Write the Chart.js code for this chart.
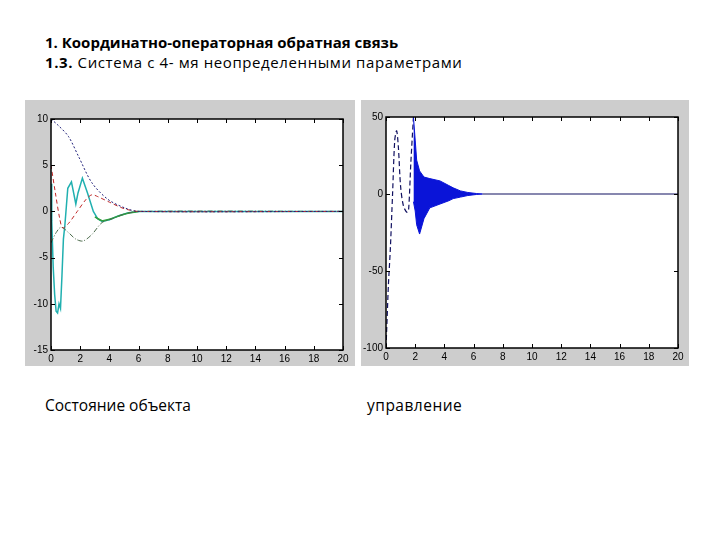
<!DOCTYPE html>
<html>
<head>
<meta charset="utf-8">
<script src="https://cdn.jsdelivr.net/npm/chart.js@4/dist/chart.umd.min.js"></script>
<style>
  body { margin: 0; background: #fff; width: 720px; height: 540px; position: relative; overflow: hidden; font-family: "Open Sans", "Liberation Sans", sans-serif; }
  .title { position: absolute; left: 45px; font-size: 15px; color: #000; white-space: nowrap; }
  .caption { position: absolute; top: 394px; font-size: 15.5px; color: #000; white-space: nowrap; }
  canvas { position: absolute; background: #cdcdcd; }
</style>
</head>
<body>
<div class="title" style="top:32px;font-weight:bold">1. Координатно-операторная обратная связь</div>
<div class="title" style="top:52px;letter-spacing:0.6px"><b>1.3.</b> Система с 4- мя неопределенными параметрами</div>
<canvas id="chart1" width="330" height="266" style="left:25px;top:100px"></canvas>
<canvas id="chart2" width="328" height="266" style="left:361px;top:100px"></canvas>
<div class="caption" style="left:45px">Состояние объекта</div>
<div class="caption" style="left:367px;letter-spacing:0.5px">управление</div>
<script>
// состояние объекта, x1..x4
var tNavy = [0, 0.5, 1.2, 1.9, 2.8, 3.9, 5.1, 6, 20];
var yNavy = [10, 9.3, 8.1, 5.9, 3.1, 1.3, 0.35, 0, 0];
var tRed = [0, 0.3, 0.6, 0.8, 1.2, 1.8, 2.4, 2.8, 3.2, 4, 5, 6, 20];
var yRed = [5, 2, -0.8, -1.8, -1.3, 0, 1.3, 1.8, 1.6, 1.0, 0.3, 0, 0];
var tGreen = [0, 0.35, 0.7, 1.2, 1.7, 2.2, 2.8, 3.5, 4.2, 5, 6, 20];
var yGreen = [-3.4, -2.3, -1.7, -2.3, -3.0, -3.2, -2.5, -1.2, -0.8, -0.3, 0, 0];
var tCyan = [0, 0.05, 0.15, 0.25, 0.35, 0.45, 0.55, 0.65, 0.75, 0.85, 0.95, 1.05, 1.15, 1.4, 1.55, 1.7, 1.85, 2.15, 2.5, 2.9, 3.2, 3.5, 4, 4.6, 5.3, 6, 20];
var yCyan = [3, -1, -6, -9, -10.8, -11, -10, -10.5, -7, -3, -1.5, 0.5, 2.5, 3.2, 2, 0.8, 2, 3.6, 2, 0, -0.8, -1.1, -0.9, -0.5, -0.15, 0, 0];
var tGreen2 = [3, 3.5, 4, 5, 6];
var yGreen2 = [-0.6, -1.0, -0.85, -0.3, 0];

// управление
var tCtrl = [0, 0.08, 0.16, 0.3, 0.45, 0.6, 0.73, 0.85, 1.0, 1.2, 1.45, 1.55, 1.7, 1.88];
var uCtrl = [-100, -80, -60, -35, 0, 35, 41, 30, 5, -8, -12, -10, 20, 50];
var tBand = [1.88, 2.0, 2.1, 2.3, 2.6, 3.0, 3.7, 4.3, 4.6, 5.1, 5.6, 6.2, 6.6];
var uUpper = [50, 35, 22, 15, 11, 10, 8.5, 5.5, 4, 2, 1, 0.3, 0];
var uLower = [-5, -11, -20, -26, -16, -9, -6.5, -4.4, -3, -2, -1, -0.3, 0];
var tTail = [6.6, 20];
var uTail = [0, 0];

var xTicks = [0, 2, 4, 6, 8, 10, 12, 14, 16, 18, 20];

function pts(t, y) {
  return t.map(function (v, i) { return {x: v, y: y[i]}; });
}

// white axes area, black box and inward ticks like in matlab
var matlabFrame = {
  id: 'matlabFrame',
  beforeDraw: function (chart) {
    var a = chart.chartArea, ctx = chart.ctx;
    ctx.save();
    ctx.fillStyle = '#fff';
    ctx.fillRect(a.left, a.top, a.right - a.left, a.bottom - a.top);
    ctx.restore();
  },
  afterDraw: function (chart) {
    var a = chart.chartArea, ctx = chart.ctx;
    var xs = chart.scales.x, ys = chart.scales.y;
    ctx.save();
    ctx.strokeStyle = '#000';
    ctx.lineWidth = 1;
    ctx.beginPath();
    xs.ticks.forEach(function (t) {
      var px = Math.round(xs.getPixelForValue(t.value)) + 0.5;
      ctx.moveTo(px, a.bottom); ctx.lineTo(px, a.bottom - 4);
      ctx.moveTo(px, a.top); ctx.lineTo(px, a.top + 4);
    });
    ys.ticks.forEach(function (t) {
      var py = Math.round(ys.getPixelForValue(t.value)) + 0.5;
      ctx.moveTo(a.left, py); ctx.lineTo(a.left + 4, py);
      ctx.moveTo(a.right, py); ctx.lineTo(a.right - 4, py);
    });
    ctx.stroke();
    ctx.lineWidth = 1.5;
    ctx.strokeRect(a.left, a.top, a.right - a.left, a.bottom - a.top);
    ctx.restore();
  }
};

function axes(ymin, ymax, ystep, yw, xh, ypad) {
  return {
    x: {
      type: 'linear', min: 0, max: 20,
      afterBuildTicks: function (s) { s.ticks = xTicks.map(function (v) { return {value: v}; }); },
      grid: {display: false, drawTicks: false}, border: {display: false},
      ticks: {color: '#000', font: {family: 'Liberation Sans', size: 10}, padding: 3, maxRotation: 0},
      afterFit: function (s) { s.height = xh; }
    },
    y: {
      type: 'linear', min: ymin, max: ymax,
      ticks: {stepSize: ystep, color: '#000', font: {family: 'Liberation Sans', size: 10}, padding: ypad},
      grid: {display: false, drawTicks: false}, border: {display: false},
      afterFit: function (s) { s.width = yw; }
    }
  };
}

function line(data, color, dash, width, tension) {
  return {data: data, borderColor: color, borderDash: dash, borderWidth: width || 1, pointRadius: 0,
    tension: tension === undefined ? 0.3 : tension, fill: false};
}

new Chart(document.getElementById('chart1'), {
  type: 'line',
  data: {
    datasets: [
      line(pts(tNavy, yNavy), '#20207a', [2, 2]),
      line(pts(tRed, yRed), '#c02828', [4, 3]),
      line(pts(tGreen, yGreen), '#4a6a4a', [5, 2, 1, 2]),
      line(pts(tGreen2, yGreen2), '#30a040', [], 1.5),
      line(pts(tCyan, yCyan), '#20b0b0', [], 1.5, 0)
    ]
  },
  options: {
    responsive: false, animation: false,
    layout: {padding: {top: 19, right: 12, left: 0, bottom: 0}},
    plugins: {legend: {display: false}, tooltip: {enabled: false}},
    scales: axes(-15, 10, 5, 26, 16, 3)
  },
  plugins: [matlabFrame]
});

new Chart(document.getElementById('chart2'), {
  type: 'line',
  data: {
    datasets: [
      {data: pts(tBand, uUpper), borderColor: '#0a14d8', backgroundColor: '#0a14d8', borderWidth: 1, pointRadius: 0, fill: false},
      {data: pts(tBand, uLower), borderColor: '#0a14d8', backgroundColor: '#0a14d8', borderWidth: 1, pointRadius: 0, fill: '-1'},
      line(pts(tCtrl, uCtrl), '#101060', [5, 3], 1.2),
      line(pts(tTail, uTail), '#101060', [], 1.2)
    ]
  },
  options: {
    responsive: false, animation: false,
    layout: {padding: {top: 17, right: 11, left: 0, bottom: 0}},
    plugins: {legend: {display: false}, tooltip: {enabled: false}, filler: {propagate: false}},
    scales: axes(-100, 50, 50, 25, 18, 3)
  },
  plugins: [matlabFrame]
});
</script>
</body>
</html>
